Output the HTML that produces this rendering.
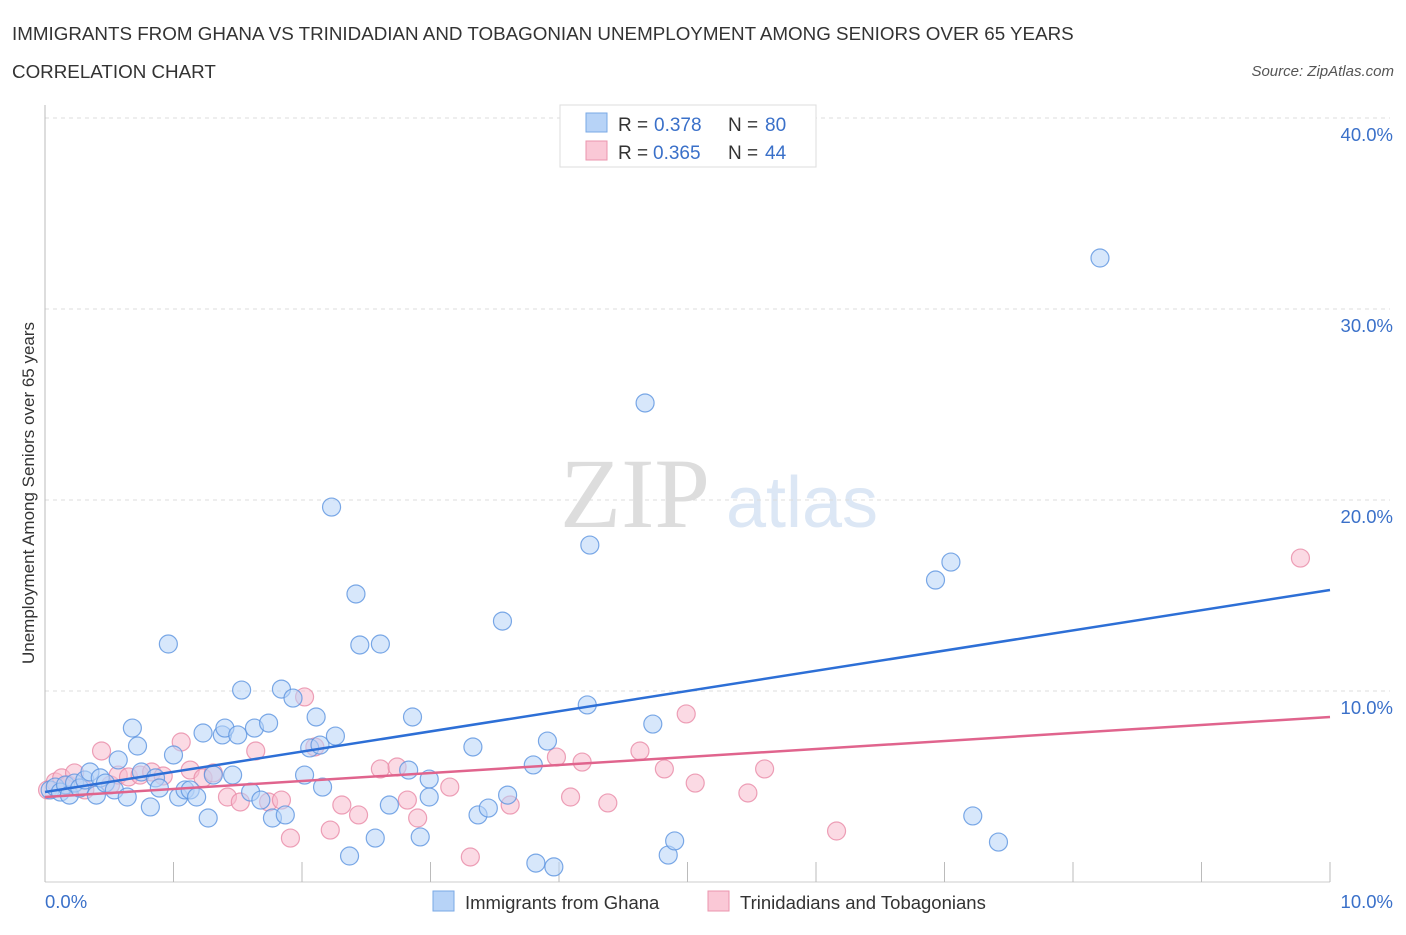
<!DOCTYPE html>
<html><head><meta charset="utf-8"><style>
body{margin:0;background:#fff;font-family:"Liberation Sans",sans-serif;}
</style></head><body>
<svg id="c" width="1406" height="930" xmlns="http://www.w3.org/2000/svg" font-family="Liberation Sans, sans-serif">
<text x="12" y="40" font-size="18.8" fill="#333">IMMIGRANTS FROM GHANA VS TRINIDADIAN AND TOBAGONIAN UNEMPLOYMENT AMONG SENIORS OVER 65 YEARS</text>
<text x="12" y="78" font-size="18.8" fill="#333">CORRELATION CHART</text>
<text x="1394" y="76" font-size="15" fill="#555" font-style="italic" text-anchor="end">Source: ZipAtlas.com</text>
<g>
<text x="635" y="527" font-size="100" fill="#ddd" font-family="Liberation Serif, serif" text-anchor="middle">ZIP</text>
<text x="802" y="527" font-size="72" fill="#dce7f5" text-anchor="middle">atlas</text>
</g>
<g id="grid"></g>
<g id="marks"></g>
<text transform="translate(34,493) rotate(-90)" font-size="17" fill="#333" text-anchor="middle">Unemployment Among Seniors over 65 years</text>
<g>
<rect x="560" y="105" width="256" height="62" fill="#fff" stroke="#ddd"/>
<rect x="586" y="113" width="21" height="19" fill="#b7d3f7" stroke="#7aa8e6"/>
<rect x="586" y="141" width="21" height="19" fill="#fac8d6" stroke="#eb95ad"/>
<text y="131" font-size="19" fill="#333"><tspan x="618">R =</tspan><tspan x="654" fill="#3a70c9">0.378</tspan><tspan x="728">N =</tspan><tspan x="765" fill="#3a70c9">80</tspan></text>
<text y="159" font-size="19" fill="#333"><tspan x="618">R =</tspan><tspan x="653" fill="#3a70c9">0.365</tspan><tspan x="728">N =</tspan><tspan x="765" fill="#3a70c9">44</tspan></text>
</g>
<g>
<rect x="433" y="891" width="21" height="20" fill="#b7d3f7" stroke="#7aa8e6"/>
<text x="465" y="909" font-size="18.5" fill="#333">Immigrants from Ghana</text>
<rect x="708" y="891" width="21" height="20" fill="#fac8d6" stroke="#eb95ad"/>
<text x="740" y="909" font-size="18.5" fill="#333">Trinidadians and Tobagonians</text>
</g>
</svg>
<script>
const yTicks=[10,20,30,40];
const yTickLabels=["10.0%","20.0%","30.0%","40.0%"];
const xTickLabels=["0.0%","10.0%"];
const blueX=[0.04,0.08,0.12,0.16,0.19,0.23,0.27,0.31,0.35,0.40,0.43,0.47,0.54,0.57,0.64,0.68,0.72,0.75,0.82,0.86,0.89,0.96,1.00,1.04,1.09,1.13,1.18,1.23,1.27,1.31,1.38,1.40,1.46,1.50,1.53,1.60,1.63,1.68,1.74,1.77,1.84,1.87,1.93,2.02,2.06,2.11,2.14,2.16,2.23,2.26,2.37,2.42,2.45,2.57,2.61,2.68,2.83,2.86,2.92,2.99,2.99,3.33,3.37,3.45,3.56,3.60,3.82,3.96,3.80,3.91,4.22,4.24,4.67,4.73,4.85,4.90,6.93,7.05,7.22,7.42,8.21];
const blueY=[4.82,4.97,4.71,5.08,4.55,5.18,4.92,5.34,5.76,4.55,5.45,5.18,4.82,6.39,4.45,8.06,7.12,5.76,3.93,5.45,4.92,12.46,6.65,4.45,4.82,4.82,4.45,7.80,3.35,5.60,7.70,8.06,5.60,7.70,10.05,4.71,8.06,4.29,8.32,3.35,10.10,3.51,9.63,5.60,7.02,8.64,7.17,4.97,19.63,7.64,1.36,15.08,12.41,2.30,12.46,4.03,5.86,8.64,2.36,5.39,4.45,7.07,3.51,3.87,13.66,4.55,0.99,0.79,6.13,7.38,9.27,17.64,25.08,8.27,1.41,2.15,15.81,16.75,3.46,2.09,32.67];
const pinkX=[0.02,0.08,0.13,0.18,0.23,0.31,0.44,0.51,0.57,0.65,0.74,0.83,0.92,1.06,1.13,1.23,1.31,1.42,1.52,1.64,1.74,1.84,1.91,2.02,2.10,2.22,2.31,2.44,2.61,2.74,2.82,2.90,3.15,3.31,3.62,3.98,4.09,4.18,4.38,4.63,4.82,4.99,5.06,5.47,5.60,6.16,9.77];
const pinkY=[4.82,5.24,5.45,5.08,5.71,4.82,6.86,5.08,5.60,5.50,5.60,5.76,5.55,7.33,5.86,5.45,5.71,4.45,4.19,6.86,4.19,4.29,2.30,9.69,7.07,2.72,4.03,3.51,5.92,6.02,4.29,3.35,4.97,1.31,4.03,6.54,4.45,6.28,4.14,6.86,5.92,8.80,5.18,4.66,5.92,2.67,16.96];
const blueTrend=[4.71,15.29];
const pinkTrend=[4.45,8.64];
const NS="http://www.w3.org/2000/svg";
const X0=45,X1=1330,Y0=882,YPX=19.1;
function sx(v){return X0+(X1-X0)*v/10;}
function sy(v){return Y0-v*YPX;}
function mk(t,a,p){const e=document.createElementNS(NS,t);for(const k in a)e.setAttribute(k,a[k]);p.appendChild(e);return e;}
const grid=document.getElementById('grid'),marks=document.getElementById('marks');
yTicks.forEach((t,i)=>{
 const l=mk('line',{x1:X0,x2:X1+60,y1:sy(t),y2:sy(t),stroke:'#ddd','stroke-dasharray':'4,4'},grid);
 
 
 const tx=mk('text',{x:1393,y:sy(t)+23,'font-size':18.5,fill:'#3a70c9','text-anchor':'end'},grid);
 tx.textContent=yTickLabels[i];
 
 
});
const ax=mk('line',{x1:X0,x2:X0,y1:105,y2:Y0,stroke:'#bbb'},grid);


const bx=mk('line',{x1:X0,x2:X1,y1:Y0,y2:Y0,stroke:'#ccc'},grid);


for(let i=0;i<=10;i++){
 const t=mk('line',{x1:sx(i),x2:sx(i),y1:862,y2:Y0,stroke:'#bbb'},grid);
 
 
}
[[0,'start',45],[10,'end',1393]].forEach((d,i)=>{
 const tx=mk('text',{x:d[2],y:908,'font-size':18.5,fill:'#3a70c9','text-anchor':d[1]},grid);
 tx.textContent=xTickLabels[i];
 
 
});
function pts(xs,ys,fill,stroke,name){
 xs.forEach((x,i)=>{
  const c=mk('circle',{cx:sx(x),cy:sy(ys[i]),r:9,fill:fill,'fill-opacity':0.55,stroke:stroke,'stroke-width':1.2,'stroke-opacity':0.8},marks);
  
  
 });
}
pts(pinkX,pinkY,'#f7bccd','#e98aa6','point-trinidad');
pts(blueX,blueY,'#b7d3f7','#5b93e0','point-ghana');
const bl=mk('line',{x1:sx(0),y1:sy(blueTrend[0]),x2:sx(10),y2:sy(blueTrend[1]),stroke:'#2d6fd6','stroke-width':2.5},marks);


const pl=mk('line',{x1:sx(0),y1:sy(pinkTrend[0]),x2:sx(10),y2:sy(pinkTrend[1]),stroke:'#e0648d','stroke-width':2.5},marks);


</script>
</body></html>
